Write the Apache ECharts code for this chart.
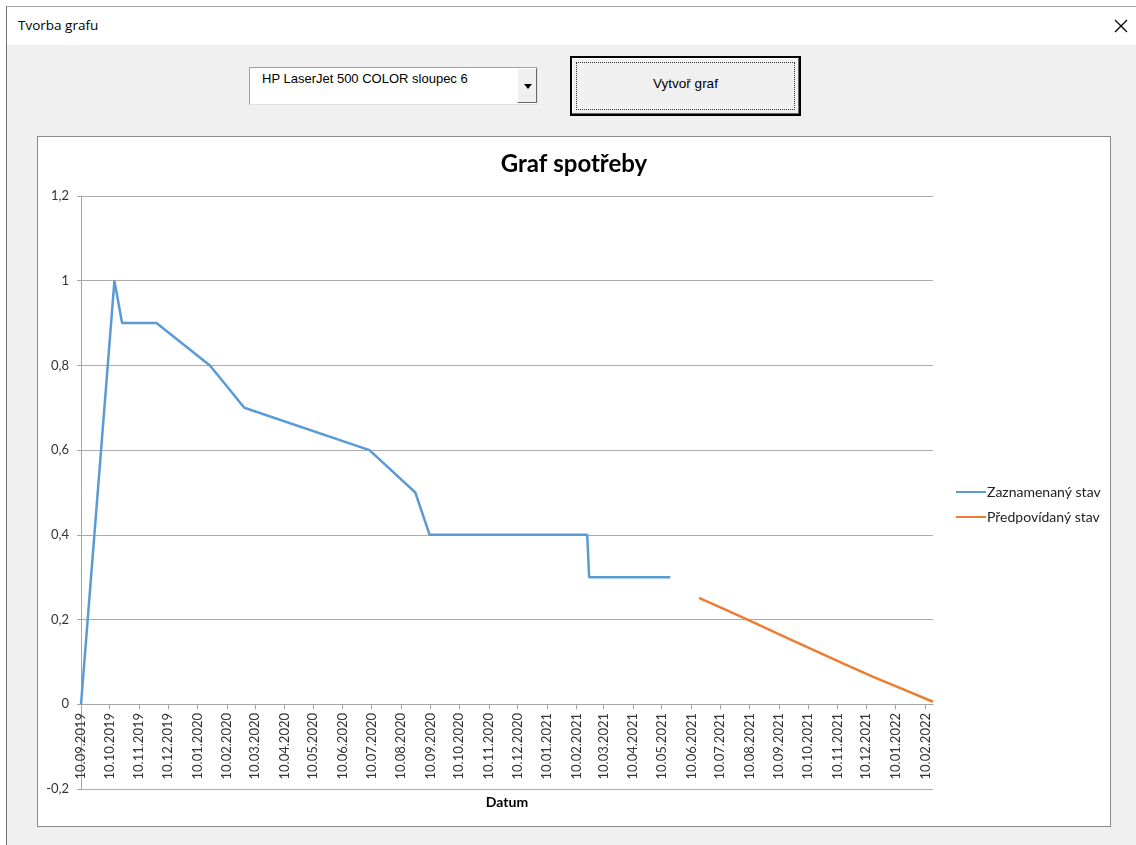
<!DOCTYPE html>
<html>
<head>
<meta charset="utf-8">
<script src="https://cdn.jsdelivr.net/npm/echarts@6/dist/echarts.min.js"></script>
<style>
  html, body { margin:0; padding:0; width:1136px; height:845px; overflow:hidden; background:#ffffff; font-family:"Open Sans","Noto Sans",sans-serif; }
  #dlg { position:absolute; left:6px; top:6px; width:1140px; height:850px; background:#f0f0f0; border-left:1px solid #707070; border-top:1px solid #a0a0a0; }
  #titlebar { position:absolute; left:0; top:0; width:100%; height:38px; background:#ffffff; }
  #titletext { position:absolute; left:11px; top:9px; font-size:13.5px; color:#000; font-family:"Open Sans","Noto Sans",sans-serif; }
  #closex { position:absolute; left:1107px; top:12px; }
  #combo { position:absolute; left:242px; top:60px; width:287px; height:36px; background:#fff; border-top:1px solid #a0a0a0; border-left:1px solid #a0a0a0; border-right:1px solid #e3e3e3; border-bottom:1px solid #e3e3e3; }
  #combotext { position:absolute; left:12px; top:3px; font-size:13px; font-family:"Liberation Sans","DejaVu Sans",sans-serif; color:#000; letter-spacing:0px; }
  #combobtn { position:absolute; right:0px; top:0px; width:20px; height:35px; background:#f0f0f0; border-left:1px solid #ffffff; border-top:1px solid #ffffff; border-right:1px solid #696969; border-bottom:1px solid #696969; box-sizing:border-box; }
  #tri { position:absolute; left:6px; top:15px; width:0; height:0; border-left:4px solid transparent; border-right:4px solid transparent; border-top:5px solid #000; }
  #btn { position:absolute; left:563px; top:49px; width:227px; height:56px; background:#f0f0f0; border:2px solid #000; box-shadow: inset -1px -1px 0 #696969, inset 1px 1px 0 #ffffff; }
  #focus { position:absolute; left:4px; top:4px; right:4px; bottom:4px; border:1px dotted #333; }
  #btntext { position:absolute; left:0; width:100%; top:18px; text-align:center; font-size:13.5px; font-family:"Liberation Sans","DejaVu Sans",sans-serif; color:#000; }
  #chartbox { position:absolute; left:37px; top:136px; width:1072px; height:689px; background:#fff; border:1px solid #8a8a8a; }
  #chart { position:absolute; left:0; top:0; width:1072px; height:689px; }
</style>
</head>
<body>
<div id="dlg">
  <div id="titlebar">
    <div id="titletext">Tvorba grafu</div>
    <svg id="closex" width="14" height="14" viewBox="0 0 14 14"><line x1="1" y1="1" x2="13" y2="13" stroke="#000" stroke-width="1.2"/><line x1="13" y1="1" x2="1" y2="13" stroke="#000" stroke-width="1.2"/></svg>
  </div>
  <div id="combo">
    <div id="combotext">HP LaserJet 500 COLOR sloupec 6</div>
    <div id="combobtn"><div id="tri"></div></div>
  </div>
  <div id="btn"><div id="focus"></div><div id="btntext">Vytvoř graf</div></div>
</div>
<div id="chartbox"><div id="chart"></div></div>
<script>
// ---- data ----
const chartTitle = 'Graf spotřeby';
const xAxisTitle = 'Datum';
const seriesNames = ['Zaznamenaný stav', 'Předpovídaný stav'];

const tickLabels = ['10.09.2019','10.10.2019','10.11.2019','10.12.2019','10.01.2020','10.02.2020','10.03.2020','10.04.2020','10.05.2020','10.06.2020','10.07.2020','10.08.2020','10.09.2020','10.10.2020','10.11.2020','10.12.2020','10.01.2021','10.02.2021','10.03.2021','10.04.2021','10.05.2021','10.06.2021','10.07.2021','10.08.2021','10.09.2021','10.10.2021','10.11.2021','10.12.2021','10.01.2022','10.02.2022'];

const recordedDates  = ['10.09.2019','15.10.2019','23.10.2019','28.11.2019','23.01.2020','28.02.2020','08.07.2020','25.08.2020','09.09.2020','21.02.2021','23.02.2021','19.05.2021'];
const recordedValues = [0, 1.0, 0.9, 0.9, 0.8, 0.7, 0.6, 0.5, 0.4, 0.4, 0.3, 0.3];

const predictedDates  = ['18.06.2021','18.07.2021','18.08.2021','18.09.2021','18.10.2021','18.11.2021','18.12.2021','18.01.2022','18.02.2022'];
const predictedValues = [0.251, 0.221, 0.189, 0.157, 0.126, 0.094, 0.064, 0.035, 0.006];

const yTicks = { min: -0.2, max: 1.2, step: 0.2 };

// ---- helpers ----
function parseDate(s) {
  const p = s.split('.');
  return Date.UTC(+p[2], +p[1] - 1, +p[0]);
}
function fmtDate(ts) {
  const d = new Date(ts);
  const dd = String(d.getUTCDate()).padStart(2, '0');
  const mm = String(d.getUTCMonth() + 1).padStart(2, '0');
  return dd + '.' + mm + '.' + d.getUTCFullYear();
}
const tickValues = tickLabels.map(parseDate);
const recorded = recordedDates.map((d, i) => [parseDate(d), recordedValues[i]]);
const predicted = predictedDates.map((d, i) => [parseDate(d), predictedValues[i]]);
const xMin = recorded[0][0];
const xMax = predicted[predicted.length - 1][0];

const fontFam = 'Lato, "Open Sans", sans-serif';
const chart = echarts.init(document.getElementById('chart'), null, { renderer: 'canvas' });
chart.setOption({
  animation: false,
  backgroundColor: '#ffffff',
  title: {
    text: chartTitle,
    left: 'center',
    top: 10,
    textStyle: { fontFamily: fontFam, fontSize: 24, fontWeight: 'bold', color: '#000' }
  },
  legend: {
    orient: 'vertical',
    left: 913,
    top: 342,
    itemWidth: 30,
    itemHeight: 2,
    itemGap: 9,
    icon: 'rect',
    textStyle: { fontFamily: fontFam, fontSize: 14, color: '#222', lineHeight: 16, padding: [0, 0, 0, -4] },
    data: seriesNames
  },
  grid: { left: 43, right: 177, top: 59, bottom: 37, containLabel: false, outerBoundsMode: 'none' },
  xAxis: {
    type: 'value',
    min: xMin,
    max: xMax,
    name: xAxisTitle,
    nameLocation: 'middle',
    nameGap: 6,
    nameTextStyle: { fontFamily: fontFam, fontSize: 14, fontWeight: 'bold', color: '#000' },
    axisLine: { show: true, onZero: true, onZeroAxisIndex: 0, lineStyle: { color: '#a6a6a6', width: 1 } },
    axisTick: { show: true, length: 5, customValues: tickValues, lineStyle: { color: '#a6a6a6' } },
    axisLabel: {
      customValues: tickValues,
      rotate: 90,
      margin: -76,
      fontFamily: fontFam,
      fontSize: 13,
      color: '#333',
      formatter: v => fmtDate(v)
    },
    splitLine: { show: false }
  },
  yAxis: {
    type: 'value',
    min: yTicks.min,
    max: yTicks.max,
    interval: yTicks.step,
    axisLine: { show: true, onZero: false, lineStyle: { color: '#a6a6a6' } },
    axisTick: { show: true, length: 4, lineStyle: { color: '#a6a6a6' } },
    axisLabel: {
      margin: 12,
      fontFamily: fontFam,
      fontSize: 13,
      color: '#333',
      formatter: v => String(Math.round(v * 10) / 10).replace('.', ',')
    },
    splitLine: { show: true, lineStyle: { color: '#ababab', width: 1 } }
  },
  series: [
    {
      name: seriesNames[0],
      type: 'line',
      data: recorded,
      showSymbol: false,
      symbol: 'none',
      lineStyle: { color: '#5B9BD5', width: 2.5 },
      itemStyle: { color: '#5B9BD5' }
    },
    {
      name: seriesNames[1],
      type: 'line',
      data: predicted,
      showSymbol: false,
      symbol: 'none',
      lineStyle: { color: '#ED7D31', width: 2.5 },
      itemStyle: { color: '#ED7D31' }
    }
  ]
});
</script>
</body>
</html>
